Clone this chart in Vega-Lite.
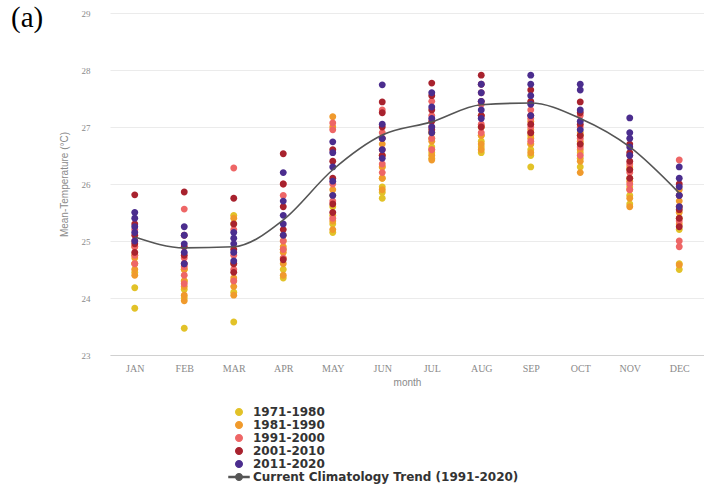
{
  "$schema": "https://vega.github.io/schema/vega-lite/v6.json",
  "autosize": {"type": "none"},
  "padding": {"left": 110, "top": 13, "right": 0, "bottom": 131},
  "width": 594,
  "height": 342,
  "background": "white",
  "title": {
    "text": "(a)",
    "anchor": "start",
    "frame": "group",
    "dx": -99,
    "dy": 47,
    "offset": 0,
    "baseline": "alphabetic",
    "font": "Liberation Serif",
    "fontSize": 29,
    "fontWeight": "normal",
    "color": "#000000"
  },
  "config": {
    "view": {"stroke": null},
    "axis": {
      "labelFont": "Liberation Serif",
      "titleFont": "Liberation Sans",
      "labelColor": "#8a8a8a",
      "titleColor": "#8a8a8a",
      "titleFontWeight": "normal"
    }
  },
  "datasets": {
    "points": [
      {"month":"JAN","series":"1971-1980","temp":23.82},{"month":"JAN","series":"1971-1980","temp":24.18},{"month":"JAN","series":"1971-1980","temp":24.45},{"month":"JAN","series":"1971-1980","temp":24.6},{"month":"JAN","series":"1971-1980","temp":24.75},
      {"month":"FEB","series":"1971-1980","temp":23.47},{"month":"FEB","series":"1971-1980","temp":24.0},{"month":"FEB","series":"1971-1980","temp":24.15},{"month":"FEB","series":"1971-1980","temp":24.3},{"month":"FEB","series":"1971-1980","temp":24.5},
      {"month":"MAR","series":"1971-1980","temp":23.58},{"month":"MAR","series":"1971-1980","temp":24.1},{"month":"MAR","series":"1971-1980","temp":24.3},{"month":"MAR","series":"1971-1980","temp":25.3},{"month":"MAR","series":"1971-1980","temp":25.45},
      {"month":"APR","series":"1971-1980","temp":24.35},{"month":"APR","series":"1971-1980","temp":24.5},{"month":"APR","series":"1971-1980","temp":24.7},{"month":"APR","series":"1971-1980","temp":24.85},{"month":"APR","series":"1971-1980","temp":25.0},
      {"month":"MAY","series":"1971-1980","temp":25.15},{"month":"MAY","series":"1971-1980","temp":25.3},{"month":"MAY","series":"1971-1980","temp":25.45},{"month":"MAY","series":"1971-1980","temp":25.6},{"month":"MAY","series":"1971-1980","temp":25.8},
      {"month":"JUN","series":"1971-1980","temp":25.75},{"month":"JUN","series":"1971-1980","temp":25.85},{"month":"JUN","series":"1971-1980","temp":25.95},{"month":"JUN","series":"1971-1980","temp":26.1},{"month":"JUN","series":"1971-1980","temp":26.3},
      {"month":"JUL","series":"1971-1980","temp":26.45},{"month":"JUL","series":"1971-1980","temp":26.55},{"month":"JUL","series":"1971-1980","temp":26.65},{"month":"JUL","series":"1971-1980","temp":26.8},{"month":"JUL","series":"1971-1980","temp":26.9},
      {"month":"AUG","series":"1971-1980","temp":26.55},{"month":"AUG","series":"1971-1980","temp":26.65},{"month":"AUG","series":"1971-1980","temp":26.75},{"month":"AUG","series":"1971-1980","temp":26.85},{"month":"AUG","series":"1971-1980","temp":27.0},
      {"month":"SEP","series":"1971-1980","temp":26.3},{"month":"SEP","series":"1971-1980","temp":26.5},{"month":"SEP","series":"1971-1980","temp":26.6},{"month":"SEP","series":"1971-1980","temp":26.7},{"month":"SEP","series":"1971-1980","temp":26.85},
      {"month":"OCT","series":"1971-1980","temp":26.3},{"month":"OCT","series":"1971-1980","temp":26.45},{"month":"OCT","series":"1971-1980","temp":26.55},{"month":"OCT","series":"1971-1980","temp":26.7},{"month":"OCT","series":"1971-1980","temp":26.85},
      {"month":"NOV","series":"1971-1980","temp":25.65},{"month":"NOV","series":"1971-1980","temp":25.8},{"month":"NOV","series":"1971-1980","temp":25.95},{"month":"NOV","series":"1971-1980","temp":26.1},{"month":"NOV","series":"1971-1980","temp":26.25},
      {"month":"DEC","series":"1971-1980","temp":24.5},{"month":"DEC","series":"1971-1980","temp":24.6},{"month":"DEC","series":"1971-1980","temp":25.2},{"month":"DEC","series":"1971-1980","temp":25.4},{"month":"DEC","series":"1971-1980","temp":25.6},

      {"month":"JAN","series":"1981-1990","temp":24.4},{"month":"JAN","series":"1981-1990","temp":24.5},{"month":"JAN","series":"1981-1990","temp":24.6},{"month":"JAN","series":"1981-1990","temp":24.7},{"month":"JAN","series":"1981-1990","temp":24.9},
      {"month":"FEB","series":"1981-1990","temp":23.95},{"month":"FEB","series":"1981-1990","temp":24.05},{"month":"FEB","series":"1981-1990","temp":24.2},{"month":"FEB","series":"1981-1990","temp":24.3},{"month":"FEB","series":"1981-1990","temp":24.5},
      {"month":"MAR","series":"1981-1990","temp":24.05},{"month":"MAR","series":"1981-1990","temp":24.2},{"month":"MAR","series":"1981-1990","temp":24.35},{"month":"MAR","series":"1981-1990","temp":24.6},{"month":"MAR","series":"1981-1990","temp":25.4},
      {"month":"APR","series":"1981-1990","temp":24.4},{"month":"APR","series":"1981-1990","temp":24.6},{"month":"APR","series":"1981-1990","temp":24.8},{"month":"APR","series":"1981-1990","temp":24.9},{"month":"APR","series":"1981-1990","temp":25.1},
      {"month":"MAY","series":"1981-1990","temp":25.2},{"month":"MAY","series":"1981-1990","temp":25.35},{"month":"MAY","series":"1981-1990","temp":25.9},{"month":"MAY","series":"1981-1990","temp":27.0},{"month":"MAY","series":"1981-1990","temp":27.18},
      {"month":"JUN","series":"1981-1990","temp":25.9},{"month":"JUN","series":"1981-1990","temp":26.1},{"month":"JUN","series":"1981-1990","temp":26.3},{"month":"JUN","series":"1981-1990","temp":26.5},{"month":"JUN","series":"1981-1990","temp":26.7},
      {"month":"JUL","series":"1981-1990","temp":26.42},{"month":"JUL","series":"1981-1990","temp":26.5},{"month":"JUL","series":"1981-1990","temp":26.6},{"month":"JUL","series":"1981-1990","temp":26.75},{"month":"JUL","series":"1981-1990","temp":26.9},
      {"month":"AUG","series":"1981-1990","temp":26.6},{"month":"AUG","series":"1981-1990","temp":26.7},{"month":"AUG","series":"1981-1990","temp":26.85},{"month":"AUG","series":"1981-1990","temp":27.0},{"month":"AUG","series":"1981-1990","temp":27.2},
      {"month":"SEP","series":"1981-1990","temp":26.55},{"month":"SEP","series":"1981-1990","temp":26.7},{"month":"SEP","series":"1981-1990","temp":26.8},{"month":"SEP","series":"1981-1990","temp":26.95},{"month":"SEP","series":"1981-1990","temp":27.1},
      {"month":"OCT","series":"1981-1990","temp":26.2},{"month":"OCT","series":"1981-1990","temp":26.4},{"month":"OCT","series":"1981-1990","temp":26.6},{"month":"OCT","series":"1981-1990","temp":26.75},{"month":"OCT","series":"1981-1990","temp":26.9},
      {"month":"NOV","series":"1981-1990","temp":25.6},{"month":"NOV","series":"1981-1990","temp":25.75},{"month":"NOV","series":"1981-1990","temp":25.9},{"month":"NOV","series":"1981-1990","temp":26.05},{"month":"NOV","series":"1981-1990","temp":26.3},
      {"month":"DEC","series":"1981-1990","temp":24.58},{"month":"DEC","series":"1981-1990","temp":25.3},{"month":"DEC","series":"1981-1990","temp":25.5},{"month":"DEC","series":"1981-1990","temp":25.7},{"month":"DEC","series":"1981-1990","temp":25.9},

      {"month":"JAN","series":"1991-2000","temp":24.6},{"month":"JAN","series":"1991-2000","temp":24.75},{"month":"JAN","series":"1991-2000","temp":24.9},{"month":"JAN","series":"1991-2000","temp":25.0},{"month":"JAN","series":"1991-2000","temp":25.2},
      {"month":"FEB","series":"1991-2000","temp":24.25},{"month":"FEB","series":"1991-2000","temp":24.4},{"month":"FEB","series":"1991-2000","temp":24.55},{"month":"FEB","series":"1991-2000","temp":24.7},{"month":"FEB","series":"1991-2000","temp":25.56},
      {"month":"MAR","series":"1991-2000","temp":24.3},{"month":"MAR","series":"1991-2000","temp":24.5},{"month":"MAR","series":"1991-2000","temp":24.75},{"month":"MAR","series":"1991-2000","temp":25.2},{"month":"MAR","series":"1991-2000","temp":26.28},
      {"month":"APR","series":"1991-2000","temp":24.7},{"month":"APR","series":"1991-2000","temp":24.85},{"month":"APR","series":"1991-2000","temp":25.0},{"month":"APR","series":"1991-2000","temp":25.8},{"month":"APR","series":"1991-2000","temp":26.0},
      {"month":"MAY","series":"1991-2000","temp":25.4},{"month":"MAY","series":"1991-2000","temp":25.7},{"month":"MAY","series":"1991-2000","temp":26.0},{"month":"MAY","series":"1991-2000","temp":26.95},{"month":"MAY","series":"1991-2000","temp":27.07},
      {"month":"JUN","series":"1991-2000","temp":26.2},{"month":"JUN","series":"1991-2000","temp":26.35},{"month":"JUN","series":"1991-2000","temp":26.6},{"month":"JUN","series":"1991-2000","temp":26.9},{"month":"JUN","series":"1991-2000","temp":27.3},
      {"month":"JUL","series":"1991-2000","temp":26.6},{"month":"JUL","series":"1991-2000","temp":26.8},{"month":"JUL","series":"1991-2000","temp":27.0},{"month":"JUL","series":"1991-2000","temp":27.2},{"month":"JUL","series":"1991-2000","temp":27.45},
      {"month":"AUG","series":"1991-2000","temp":26.9},{"month":"AUG","series":"1991-2000","temp":27.05},{"month":"AUG","series":"1991-2000","temp":27.2},{"month":"AUG","series":"1991-2000","temp":27.4},{"month":"AUG","series":"1991-2000","temp":27.6},
      {"month":"SEP","series":"1991-2000","temp":26.75},{"month":"SEP","series":"1991-2000","temp":26.9},{"month":"SEP","series":"1991-2000","temp":27.0},{"month":"SEP","series":"1991-2000","temp":27.15},{"month":"SEP","series":"1991-2000","temp":27.3},
      {"month":"OCT","series":"1991-2000","temp":26.5},{"month":"OCT","series":"1991-2000","temp":26.65},{"month":"OCT","series":"1991-2000","temp":26.8},{"month":"OCT","series":"1991-2000","temp":27.0},{"month":"OCT","series":"1991-2000","temp":27.2},
      {"month":"NOV","series":"1991-2000","temp":25.9},{"month":"NOV","series":"1991-2000","temp":26.0},{"month":"NOV","series":"1991-2000","temp":26.2},{"month":"NOV","series":"1991-2000","temp":26.35},{"month":"NOV","series":"1991-2000","temp":26.5},
      {"month":"DEC","series":"1991-2000","temp":24.9},{"month":"DEC","series":"1991-2000","temp":25.0},{"month":"DEC","series":"1991-2000","temp":25.35},{"month":"DEC","series":"1991-2000","temp":25.6},{"month":"DEC","series":"1991-2000","temp":26.42},

      {"month":"JAN","series":"2001-2010","temp":24.8},{"month":"JAN","series":"2001-2010","temp":24.95},{"month":"JAN","series":"2001-2010","temp":25.1},{"month":"JAN","series":"2001-2010","temp":25.3},{"month":"JAN","series":"2001-2010","temp":25.81},
      {"month":"FEB","series":"2001-2010","temp":24.6},{"month":"FEB","series":"2001-2010","temp":24.75},{"month":"FEB","series":"2001-2010","temp":24.9},{"month":"FEB","series":"2001-2010","temp":25.1},{"month":"FEB","series":"2001-2010","temp":25.86},
      {"month":"MAR","series":"2001-2010","temp":24.45},{"month":"MAR","series":"2001-2010","temp":24.6},{"month":"MAR","series":"2001-2010","temp":24.85},{"month":"MAR","series":"2001-2010","temp":25.3},{"month":"MAR","series":"2001-2010","temp":25.75},
      {"month":"APR","series":"2001-2010","temp":24.67},{"month":"APR","series":"2001-2010","temp":25.2},{"month":"APR","series":"2001-2010","temp":25.6},{"month":"APR","series":"2001-2010","temp":26.0},{"month":"APR","series":"2001-2010","temp":26.53},
      {"month":"MAY","series":"2001-2010","temp":25.5},{"month":"MAY","series":"2001-2010","temp":25.65},{"month":"MAY","series":"2001-2010","temp":26.1},{"month":"MAY","series":"2001-2010","temp":26.4},{"month":"MAY","series":"2001-2010","temp":26.6},
      {"month":"JUN","series":"2001-2010","temp":26.5},{"month":"JUN","series":"2001-2010","temp":26.8},{"month":"JUN","series":"2001-2010","temp":27.0},{"month":"JUN","series":"2001-2010","temp":27.25},{"month":"JUN","series":"2001-2010","temp":27.44},
      {"month":"JUL","series":"2001-2010","temp":26.95},{"month":"JUL","series":"2001-2010","temp":27.1},{"month":"JUL","series":"2001-2010","temp":27.3},{"month":"JUL","series":"2001-2010","temp":27.55},{"month":"JUL","series":"2001-2010","temp":27.77},
      {"month":"AUG","series":"2001-2010","temp":27.0},{"month":"AUG","series":"2001-2010","temp":27.2},{"month":"AUG","series":"2001-2010","temp":27.45},{"month":"AUG","series":"2001-2010","temp":27.75},{"month":"AUG","series":"2001-2010","temp":27.91},
      {"month":"SEP","series":"2001-2010","temp":26.9},{"month":"SEP","series":"2001-2010","temp":27.05},{"month":"SEP","series":"2001-2010","temp":27.2},{"month":"SEP","series":"2001-2010","temp":27.45},{"month":"SEP","series":"2001-2010","temp":27.65},
      {"month":"OCT","series":"2001-2010","temp":26.7},{"month":"OCT","series":"2001-2010","temp":26.85},{"month":"OCT","series":"2001-2010","temp":27.05},{"month":"OCT","series":"2001-2010","temp":27.25},{"month":"OCT","series":"2001-2010","temp":27.44},
      {"month":"NOV","series":"2001-2010","temp":26.1},{"month":"NOV","series":"2001-2010","temp":26.25},{"month":"NOV","series":"2001-2010","temp":26.4},{"month":"NOV","series":"2001-2010","temp":26.55},{"month":"NOV","series":"2001-2010","temp":26.7},
      {"month":"DEC","series":"2001-2010","temp":25.25},{"month":"DEC","series":"2001-2010","temp":25.4},{"month":"DEC","series":"2001-2010","temp":25.55},{"month":"DEC","series":"2001-2010","temp":25.8},{"month":"DEC","series":"2001-2010","temp":26.0},

      {"month":"JAN","series":"2011-2020","temp":25.0},{"month":"JAN","series":"2011-2020","temp":25.15},{"month":"JAN","series":"2011-2020","temp":25.25},{"month":"JAN","series":"2011-2020","temp":25.4},{"month":"JAN","series":"2011-2020","temp":25.5},
      {"month":"FEB","series":"2011-2020","temp":24.6},{"month":"FEB","series":"2011-2020","temp":24.8},{"month":"FEB","series":"2011-2020","temp":24.95},{"month":"FEB","series":"2011-2020","temp":25.1},{"month":"FEB","series":"2011-2020","temp":25.25},
      {"month":"MAR","series":"2011-2020","temp":24.65},{"month":"MAR","series":"2011-2020","temp":24.8},{"month":"MAR","series":"2011-2020","temp":24.95},{"month":"MAR","series":"2011-2020","temp":25.05},{"month":"MAR","series":"2011-2020","temp":25.15},
      {"month":"APR","series":"2011-2020","temp":25.1},{"month":"APR","series":"2011-2020","temp":25.3},{"month":"APR","series":"2011-2020","temp":25.45},{"month":"APR","series":"2011-2020","temp":25.7},{"month":"APR","series":"2011-2020","temp":26.2},
      {"month":"MAY","series":"2011-2020","temp":25.8},{"month":"MAY","series":"2011-2020","temp":26.05},{"month":"MAY","series":"2011-2020","temp":26.3},{"month":"MAY","series":"2011-2020","temp":26.55},{"month":"MAY","series":"2011-2020","temp":26.74},
      {"month":"JUN","series":"2011-2020","temp":26.45},{"month":"JUN","series":"2011-2020","temp":26.6},{"month":"JUN","series":"2011-2020","temp":26.8},{"month":"JUN","series":"2011-2020","temp":27.05},{"month":"JUN","series":"2011-2020","temp":27.74},
      {"month":"JUL","series":"2011-2020","temp":26.9},{"month":"JUL","series":"2011-2020","temp":27.0},{"month":"JUL","series":"2011-2020","temp":27.15},{"month":"JUL","series":"2011-2020","temp":27.35},{"month":"JUL","series":"2011-2020","temp":27.6},
      {"month":"AUG","series":"2011-2020","temp":27.15},{"month":"AUG","series":"2011-2020","temp":27.3},{"month":"AUG","series":"2011-2020","temp":27.45},{"month":"AUG","series":"2011-2020","temp":27.6},{"month":"AUG","series":"2011-2020","temp":27.75},
      {"month":"SEP","series":"2011-2020","temp":27.2},{"month":"SEP","series":"2011-2020","temp":27.4},{"month":"SEP","series":"2011-2020","temp":27.55},{"month":"SEP","series":"2011-2020","temp":27.75},{"month":"SEP","series":"2011-2020","temp":27.91},
      {"month":"OCT","series":"2011-2020","temp":26.95},{"month":"OCT","series":"2011-2020","temp":27.1},{"month":"OCT","series":"2011-2020","temp":27.3},{"month":"OCT","series":"2011-2020","temp":27.65},{"month":"OCT","series":"2011-2020","temp":27.75},
      {"month":"NOV","series":"2011-2020","temp":26.5},{"month":"NOV","series":"2011-2020","temp":26.65},{"month":"NOV","series":"2011-2020","temp":26.8},{"month":"NOV","series":"2011-2020","temp":26.9},{"month":"NOV","series":"2011-2020","temp":27.16},
      {"month":"DEC","series":"2011-2020","temp":25.6},{"month":"DEC","series":"2011-2020","temp":25.8},{"month":"DEC","series":"2011-2020","temp":25.95},{"month":"DEC","series":"2011-2020","temp":26.1},{"month":"DEC","series":"2011-2020","temp":26.3}
    ],
    "trend": [
      {"month":"JAN","series":"Current Climatology Trend (1991-2020)","temp":25.07},
      {"month":"FEB","series":"Current Climatology Trend (1991-2020)","temp":24.88},
      {"month":"MAR","series":"Current Climatology Trend (1991-2020)","temp":24.9},
      {"month":"APR","series":"Current Climatology Trend (1991-2020)","temp":25.37},
      {"month":"MAY","series":"Current Climatology Trend (1991-2020)","temp":26.25},
      {"month":"JUN","series":"Current Climatology Trend (1991-2020)","temp":26.86},
      {"month":"JUL","series":"Current Climatology Trend (1991-2020)","temp":27.09},
      {"month":"AUG","series":"Current Climatology Trend (1991-2020)","temp":27.39},
      {"month":"SEP","series":"Current Climatology Trend (1991-2020)","temp":27.42},
      {"month":"OCT","series":"Current Climatology Trend (1991-2020)","temp":27.15},
      {"month":"NOV","series":"Current Climatology Trend (1991-2020)","temp":26.65},
      {"month":"DEC","series":"Current Climatology Trend (1991-2020)","temp":25.84}
    ]
  },
  "encoding": {
    "x": {
      "field": "month",
      "type": "ordinal",
      "sort": null,
      "scale": {"domain": ["JAN","FEB","MAR","APR","MAY","JUN","JUL","AUG","SEP","OCT","NOV","DEC"]},
      "axis": {
        "title": "month",
        "labelAngle": 0,
        "ticks": false,
        "domain": true,
        "domainColor": "#d0d0d0",
        "grid": false,
        "labelFontSize": 10,
        "labelPadding": 8,
        "titleFontSize": 10,
        "titlePadding": 4
      }
    },
    "y": {
      "field": "temp",
      "type": "quantitative",
      "scale": {"domain": [23, 29], "zero": false, "nice": false},
      "axis": {
        "title": "Mean-Temperature (°C)",
        "values": [23, 24, 25, 26, 27, 28, 29],
        "grid": true,
        "gridColor": "#ebebeb",
        "domain": false,
        "ticks": false,
        "labelFontSize": 9,
        "labelPadding": 20,
        "titleFontSize": 10,
        "titlePadding": 12
      }
    },
    "color": {
      "field": "series",
      "type": "nominal",
      "scale": {
        "domain": ["1971-1980","1981-1990","1991-2000","2001-2010","2011-2020","Current Climatology Trend (1991-2020)"],
        "range": ["#e2c228","#f09a2c","#ee6666","#a8222e","#4b2d8e","#555555"]
      },
      "legend": {
        "title": null,
        "orient": "none",
        "legendX": 123,
        "legendY": 393,
        "padding": 0,
        "labelFont": "DejaVu Sans",
        "labelFontWeight": "bold",
        "labelFontSize": 12,
        "labelColor": "#333333",
        "labelLimit": 400,
        "symbolSize": 100,
        "rowPadding": -1.3,
        "labelOffset": 8
      }
    }
  },
  "layer": [
    {
      "data": {"name": "points"},
      "mark": {"type": "point", "filled": true, "size": 112, "opacity": 1},
      "encoding": {
        "shape": {
          "field": "series",
          "type": "nominal",
          "scale": {
            "domain": ["1971-1980","1981-1990","1991-2000","2001-2010","2011-2020","Current Climatology Trend (1991-2020)"],
            "range": [
              "M0.65,0A0.65,0.65 0 1,1 -0.65,0A0.65,0.65 0 1,1 0.65,0Z",
              "M0.65,0A0.65,0.65 0 1,1 -0.65,0A0.65,0.65 0 1,1 0.65,0Z",
              "M0.65,0A0.65,0.65 0 1,1 -0.65,0A0.65,0.65 0 1,1 0.65,0Z",
              "M0.65,0A0.65,0.65 0 1,1 -0.65,0A0.65,0.65 0 1,1 0.65,0Z",
              "M0.65,0A0.65,0.65 0 1,1 -0.65,0A0.65,0.65 0 1,1 0.65,0Z",
              "M-2,-0.1H2V0.1H-2Z M0.65,0A0.65,0.65 0 1,1 -0.65,0A0.65,0.65 0 1,1 0.65,0Z"
            ]
          }
        }
      }
    },
    {
      "data": {"name": "trend"},
      "mark": {"type": "line", "interpolate": "monotone", "strokeWidth": 1.6},
      "encoding": {}
    }
  ]
}
